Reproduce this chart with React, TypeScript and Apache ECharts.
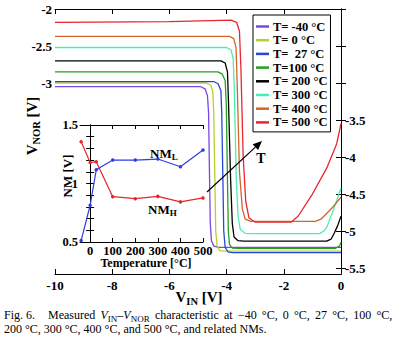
import React, { useEffect, useRef } from 'react';
import * as echarts from 'echarts';

// ---------- data ----------
const seriesNames = ['T= -40 °C', 'T= 0 °C', 'T=  27 °C', 'T=100 °C', 'T= 200 °C', 'T= 300 °C', 'T= 400 °C', 'T= 500 °C'];
const seriesColors = ['#7a48e0', '#b9cf2e', '#2646d8', '#22a022', '#000000', '#48eeae', '#d2662a', '#e8262c'];

// [V_IN, V_NOR]
const curveM40 = [[-10, -3.05], [-4.9, -3.05], [-4.75, -3.08], [-4.67, -3.17], [-4.63, -3.4], [-4.6, -4.2], [-4.57, -4.9], [-4.53, -5.13], [-4.45, -5.2], [-4.3, -5.22], [0, -5.22]];
const curve0 = [[-10, -3.0], [-4.7, -3.0], [-4.55, -3.03], [-4.48, -3.12], [-4.45, -3.4], [-4.41, -4.3], [-4.38, -5.0], [-4.33, -5.2], [-4.25, -5.26], [-4.1, -5.27], [0, -5.27]];
const curve27 = [[-10, -2.98], [-4.45, -2.98], [-4.3, -3.01], [-4.2, -3.1], [-4.17, -3.4], [-4.13, -4.3], [-4.1, -5.0], [-4.05, -5.22], [-3.95, -5.28], [-3.8, -5.29], [0, -5.29]];
const curve100 = [[-10, -2.85], [-4.3, -2.85], [-4.15, -2.88], [-4.05, -2.97], [-4.01, -3.3], [-3.97, -4.3], [-3.94, -5.0], [-3.9, -5.18], [-3.8, -5.23], [-3.6, -5.235], [-0.2, -5.235], [-0.05, -5.2], [0, -5.15]];
const curve200 = [[-10, -2.7], [-4.2, -2.7], [-4.05, -2.73], [-3.97, -2.85], [-3.93, -3.3], [-3.86, -4.3], [-3.8, -4.9], [-3.74, -5.08], [-3.6, -5.13], [-3.4, -5.135], [-0.5, -5.135], [-0.35, -5.11], [-0.25, -5.04], [-0.12, -4.93], [0, -4.8]];
const curve300 = [[-10, -2.52], [-4.0, -2.52], [-3.85, -2.55], [-3.77, -2.67], [-3.73, -3.1], [-3.66, -4.3], [-3.6, -4.8], [-3.52, -4.98], [-3.35, -5.03], [-3.1, -5.035], [-0.75, -5.035], [-0.6, -5.0], [-0.5, -4.95], [-0.27, -4.72], [0, -4.42]];
const curve400 = [[-10, -2.37], [-3.9, -2.37], [-3.75, -2.4], [-3.67, -2.52], [-3.63, -3.0], [-3.55, -4.2], [-3.45, -4.7], [-3.35, -4.84], [-3.15, -4.87], [-0.9, -4.87], [-0.7, -4.84], [-0.28, -4.675], [0, -4.54]];
const curve500 = [[-10, -2.18], [-6, -2.17], [-3.85, -2.15], [-3.65, -2.18], [-3.55, -2.3], [-3.5, -2.8], [-3.42, -4.0], [-3.33, -4.6], [-3.22, -4.82], [-3.0, -4.88], [-1.75, -4.88], [-1.5, -4.8], [-1.0, -4.5], [-0.5, -4.15], [-0.15, -3.82], [0, -3.55]];
const curves = [curveM40, curve0, curve27, curve100, curve200, curve300, curve400, curve500];

const yTicksMain = [-2, -2.5, -3, -3.5, -4, -4.5, -5, -5.5];
const yLabelsLeft = [-2, -2.5, -3];
const yLabelsRight = [-3.5, -4, -4.5, -5, -5.5];

// inset
const temps = [-40, 0, 27, 100, 200, 300, 400, 500];
const nmH = [1.357, 1.18, 1.185, 0.887, 0.87, 0.89, 0.843, 0.877];
const nmL = [0.512, 0.814, 1.117, 1.2, 1.2, 1.209, 1.143, 1.286];
const insetXLabels = [0, 100, 200, 300, 400, 500];
const insetYTicks = [0.5, 0.6, 0.7, 0.8, 0.9, 1.0, 1.1, 1.2, 1.3, 1.4, 1.5];
const insetYLabels = [0.5, 1, 1.5];

// caption words (line 1 is justified)
const captionLine1Words = ['{i|V}{s|IN}{t|–}{i|V}{s|NOR}', 'characteristic', 'at', '−40', '°C,', '0', '°C,', '27', '°C,', '100', '°C,'];
const captionLine2 = '200 °C, 300 °C, 400 °C, and 500 °C, and related NMs.';

const SERIF = "'Liberation Serif', 'Times New Roman', serif";

export default function App() {
  const ref = useRef<HTMLDivElement>(null);
  useEffect(() => {
    const chart = echarts.init(ref.current!, null, { renderer: 'svg' });
    const axisLine = { show: true, lineStyle: { color: '#000', width: 1 } };
    const lbl = { fontFamily: SERIF, fontWeight: 'bold', fontSize: 13, color: '#000' };
    const ilbl = { fontFamily: SERIF, fontWeight: 'bold', fontSize: 12.5, color: '#000' };

    const mainSeries = curves.map((c, i) => ({
      type: 'line',
      name: seriesNames[i],
      xAxisIndex: 0,
      yAxisIndex: 0,
      data: c,
      showSymbol: false,
      symbol: 'none',
      lineStyle: { color: seriesColors[i], width: 1.3 },
      itemStyle: { color: seriesColors[i] },
      z: 2,
    }));

    const sub = (size: number, lh: number) => ({
      a: { fontFamily: SERIF, fontWeight: 'bold', fontSize: size, lineHeight: lh, fill: '#000' },
      s: { fontFamily: SERIF, fontWeight: 'bold', fontSize: size * 0.7, lineHeight: size * 0.7, verticalAlign: 'bottom', fill: '#000' },
    });

    const capSize = 12;
    const capRich = {
      t: { fontFamily: SERIF, fontSize: capSize, lineHeight: 16, fill: '#000' },
      i: { fontFamily: SERIF, fontSize: capSize, fontStyle: 'italic', lineHeight: 16, fill: '#000' },
      s: { fontFamily: SERIF, fontSize: 9, lineHeight: 9, verticalAlign: 'bottom', fill: '#000' },
      g: { fontFamily: SERIF, fontSize: capSize, lineHeight: 16, width: 5.2 },
      G: { fontFamily: SERIF, fontSize: capSize, lineHeight: 16, width: 13 },
    };
    const line1 = '{t|Fig. 6.}{G| }{t|Measured}{g| }' +
      captionLine1Words.map((w) => (w.startsWith('{') ? w : `{t|${w}}`)).join('{g| }');

    chart.setOption({
      animation: false,
      backgroundColor: '#fff',
      grid: [
        { left: 55, top: 9, width: 286, height: 265, show: false },
        { left: 80, top: 125, width: 123, height: 117, show: true, backgroundColor: '#fff', borderWidth: 0, z: 5 },
      ],
      xAxis: [
        { type: 'value', gridIndex: 0, position: 'bottom', min: -10, max: 0, interval: 2, axisLine,
          axisTick: { show: true, inside: true, length: 5, lineStyle: { color: '#000' } },
          axisLabel: { ...lbl, margin: 5 }, splitLine: { show: false } },
        { type: 'value', gridIndex: 0, position: 'top', min: -10, max: 0, interval: 2, axisLine,
          axisTick: { show: true, inside: true, length: 5, lineStyle: { color: '#000' } },
          axisLabel: { show: false }, splitLine: { show: false } },
        { type: 'value', gridIndex: 1, position: 'bottom', min: -45, max: 500, axisLine, z: 6,
          axisTick: { show: true, inside: true, length: 4, customValues: insetXLabels, lineStyle: { color: '#000' } },
          axisLabel: { ...ilbl, margin: 2, customValues: insetXLabels }, splitLine: { show: false } },
        { type: 'value', gridIndex: 1, position: 'top', min: -45, max: 500, axisLine, z: 6,
          axisTick: { show: true, inside: true, length: 4, customValues: insetXLabels, lineStyle: { color: '#000' } },
          axisLabel: { show: false }, splitLine: { show: false } },
      ],
      yAxis: [
        { type: 'value', gridIndex: 0, position: 'left', min: -5.58, max: -2, axisLine,
          axisTick: { show: true, inside: true, length: 5, customValues: yTicksMain, lineStyle: { color: '#000' } },
          axisLabel: { ...lbl, margin: 3, customValues: yLabelsLeft }, splitLine: { show: false } },
        { type: 'value', gridIndex: 0, position: 'right', min: -5.58, max: -2, axisLine,
          axisTick: { show: true, inside: true, length: 5, customValues: yTicksMain, lineStyle: { color: '#000' } },
          axisLabel: { ...lbl, margin: 4, customValues: yLabelsRight }, splitLine: { show: false } },
        { type: 'value', gridIndex: 1, position: 'left', min: 0.5, max: 1.5, axisLine, z: 6,
          axisTick: { show: true, inside: true, length: 4, customValues: insetYTicks, lineStyle: { color: '#000' } },
          axisLabel: { ...ilbl, margin: 2, customValues: insetYLabels, formatter: (v: number) => String(Math.round(v * 10) / 10) },
          splitLine: { show: false } },
        { type: 'value', gridIndex: 1, position: 'right', min: 0.5, max: 1.5, axisLine, z: 6,
          axisTick: { show: true, inside: true, length: 4, customValues: insetYTicks, lineStyle: { color: '#000' } },
          axisLabel: { show: false }, splitLine: { show: false } },
      ],
      legend: {
        orient: 'vertical',
        left: 253,
        top: 15,
        data: seriesNames,
        icon: 'rect',
        itemWidth: 13,
        itemHeight: 2.5,
        itemGap: 0.7,
        padding: [5, 3, 3, 3],
        backgroundColor: '#fff',
        borderColor: '#000',
        borderWidth: 1,
        borderRadius: 0,
        selectedMode: false,
        textStyle: { fontFamily: SERIF, fontWeight: 'bold', fontSize: 12.5, lineHeight: 13, color: '#000', padding: [0, 0, 0, -1] },
        z: 10,
      },
      series: [
        ...mainSeries,
        { type: 'line', name: 'NMH', xAxisIndex: 2, yAxisIndex: 2, data: temps.map((t, i) => [t, nmH[i]]),
          symbol: 'circle', symbolSize: 3.5, lineStyle: { color: '#e4262c', width: 1.2 }, itemStyle: { color: '#e4262c' }, z: 7 },
        { type: 'line', name: 'NML', xAxisIndex: 2, yAxisIndex: 2, data: temps.map((t, i) => [t, nmL[i]]),
          symbol: 'circle', symbolSize: 3.5, lineStyle: { color: '#2a3ee0', width: 1.2 }, itemStyle: { color: '#2a3ee0' }, z: 7 },
      ],
      graphic: [
        { type: 'text', x: 32, y: 126, rotation: Math.PI / 2, z: 20,
          style: { text: '{a|V}{s|NOR}{a| [V]}', rich: sub(15, 20), align: 'center', verticalAlign: 'middle' } },
        { type: 'text', x: 199, y: 297, z: 20,
          style: { text: '{a|V}{s|IN}{a| [V]}', rich: sub(15, 20), align: 'center', verticalAlign: 'middle' } },
        { type: 'text', x: 67, y: 176, rotation: Math.PI / 2, z: 20,
          style: { text: 'NM [V]', fontFamily: SERIF, fontWeight: 'bold', fontSize: 13, fill: '#000', align: 'center', verticalAlign: 'middle' } },
        { type: 'text', x: 146, y: 263, z: 20,
          style: { text: 'Temperature [°C]', fontFamily: SERIF, fontWeight: 'bold', fontSize: 12, fill: '#000', align: 'center', verticalAlign: 'middle' } },
        { type: 'text', x: 150, y: 153, z: 20,
          style: { text: '{a|NM}{s|L}', rich: sub(13, 16), align: 'left', verticalAlign: 'middle' } },
        { type: 'text', x: 148, y: 209, z: 20,
          style: { text: '{a|NM}{s|H}', rich: sub(13, 16), align: 'left', verticalAlign: 'middle' } },
        { type: 'text', x: 261, y: 158, z: 20,
          style: { text: 'T', fontFamily: SERIF, fontWeight: 'bold', fontSize: 14, fill: '#000', align: 'center', verticalAlign: 'middle' } },
        { type: 'line', z: 20, shape: { x1: 207, y1: 192, x2: 255.4, y2: 147.1 }, style: { stroke: '#000', lineWidth: 1.2 } },
        { type: 'polygon', z: 20, shape: { points: [[262, 141], [258.1, 150.0], [252.7, 144.2]] }, style: { fill: '#000' } },
        { type: 'text', x: 4, y: 315, z: 20,
          style: { text: line1, rich: capRich, align: 'left', verticalAlign: 'middle' } },
        { type: 'text', x: 4, y: 329, z: 20,
          style: { text: captionLine2, fontFamily: SERIF, fontSize: capSize, fill: '#000', align: 'left', verticalAlign: 'middle' } },
      ],
    });
    return () => chart.dispose();
  }, []);
  return <div ref={ref} style={{ position: 'absolute', left: 0, top: 0, width: 395, height: 351 }} />;
}
